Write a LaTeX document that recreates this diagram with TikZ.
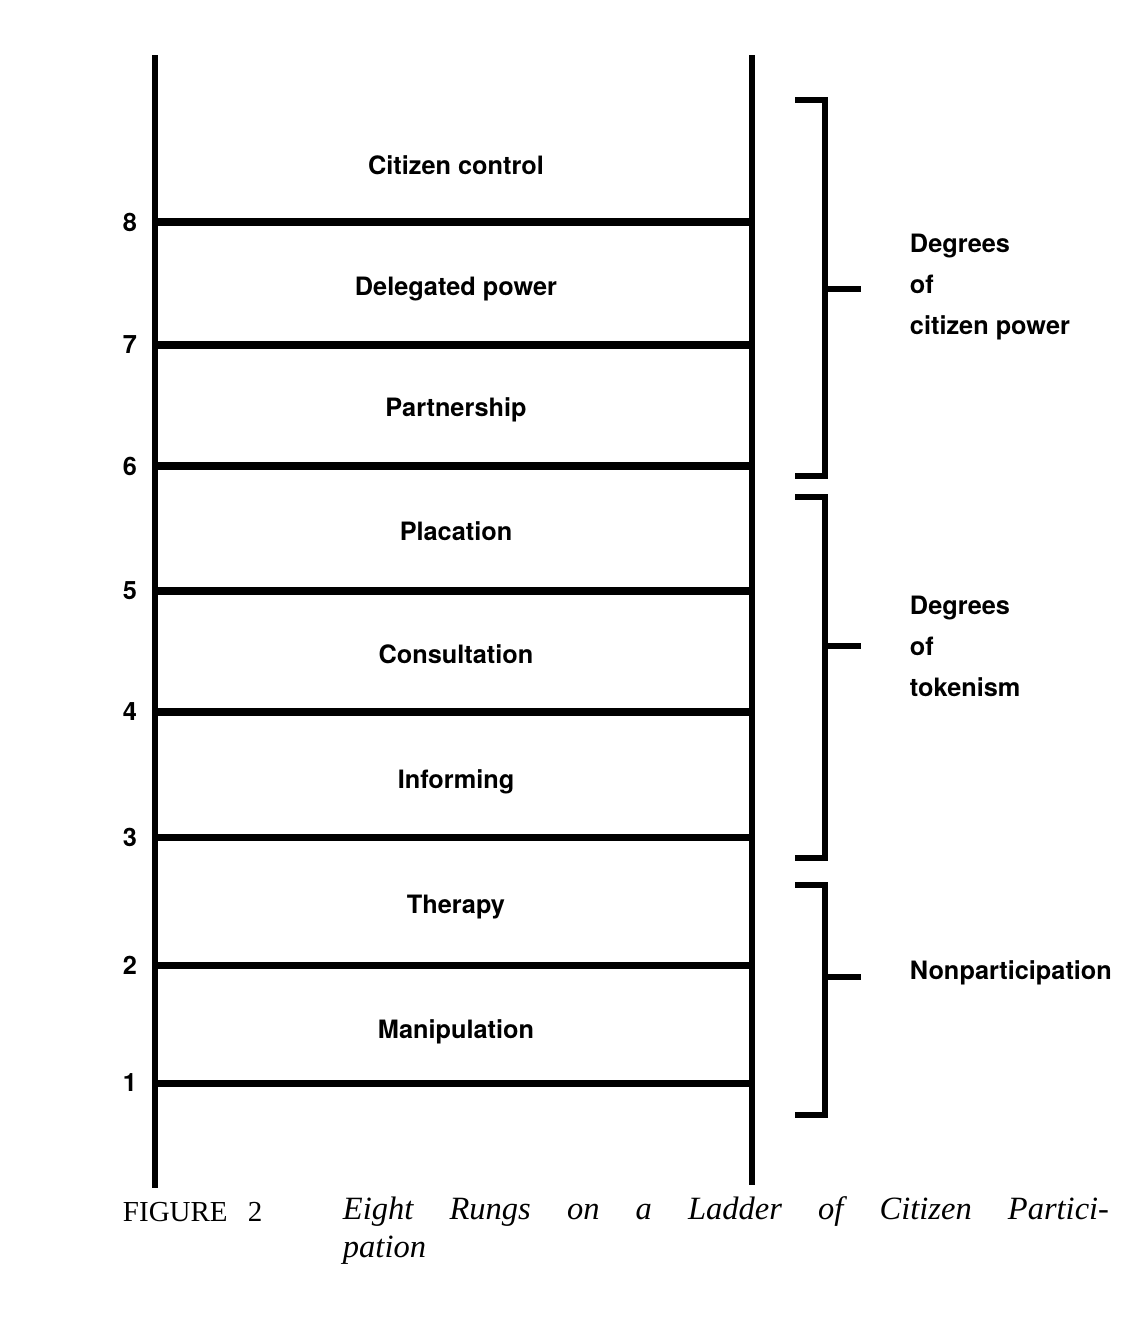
\documentclass[tikz,border=0pt]{standalone}
\usepackage{fontspec}
\newfontfamily\heros{TeX Gyre Heros}
\newfontfamily\capfont{Liberation Serif}

\begin{document}
\begin{tikzpicture}[x=0.02cm, y=-0.02cm, line width=3.4pt,
    rung/.style={line width=4pt},
    lbl/.style={font=\heros\bfseries\fontsize{14.4}{17}\selectfont, inner sep=0pt},
    grp/.style={font=\heros\bfseries\fontsize{14.4}{23.3}\selectfont, inner sep=0pt, anchor=west, align=left},
    captext/.style={anchor=west, inner sep=0pt, font=\capfont\itshape\fontsize{18.5}{21.5}\selectfont}]
    \useasboundingbox (0,0) rectangle (1144,1330);

    % Holme.
    \draw (155,55) -- (155,1188);
    \draw (752,55) -- (752,1185);

    % Sprossen mit Nummern.
    \foreach \y/\n in {1083/1, 965/2, 837/3, 712/4, 591/5, 466/6, 345/7, 222/8}
    {
        \draw[rung] (155,\y) -- (752,\y);
        \node[lbl] (num\n) at (130,\y) {\n};
    }

    % Stufen.
    \foreach \y/\name/\t in {1032/manip/Manipulation, 907/therapy/Therapy, 782/inform/Informing,
        654/consult/Consultation, 531/plac/Placation, 410/partner/Partnership,
        289/deleg/Delegated power, 165/control/Citizen control}
    {
        \node[lbl] (\name) at (456,\y) {\t};
    }

    % Klammern.
    \foreach \top/\mid/\bot/\name in {100/289/476/power, 497/646/858/token, 885/977/1115/nonpart}
    {
        \draw (795,\top) -- (825,\top) -- (825,\bot) -- (795,\bot);
        \draw (825,\mid) -- coordinate (\name-mid) (861,\mid);
    }

    % Beschriftung.
    \node[grp] (lblpower) at (907,287) {Degrees\\of\\citizen power};
    \node[grp] (lbltoken) at (907,646) {Degrees\\of\\tokenism};
    \node[grp] (lblnonpart) at (907,973) {Nonparticipation};

    % Unterschrift.
    \node[anchor=west, inner sep=0pt, font=\capfont\fontsize{16.5}{18}\selectfont] (fig) at (120,1212) {FIGURE\hspace{0.7em}2};
    \node[captext] (title) at (340,1212) {\makebox[436pt][s]{Eight Rungs on a Ladder of Citizen Partici-}};
    \node[captext] (title2) at (340,1250) {pation};
\end{tikzpicture}
\end{document}
